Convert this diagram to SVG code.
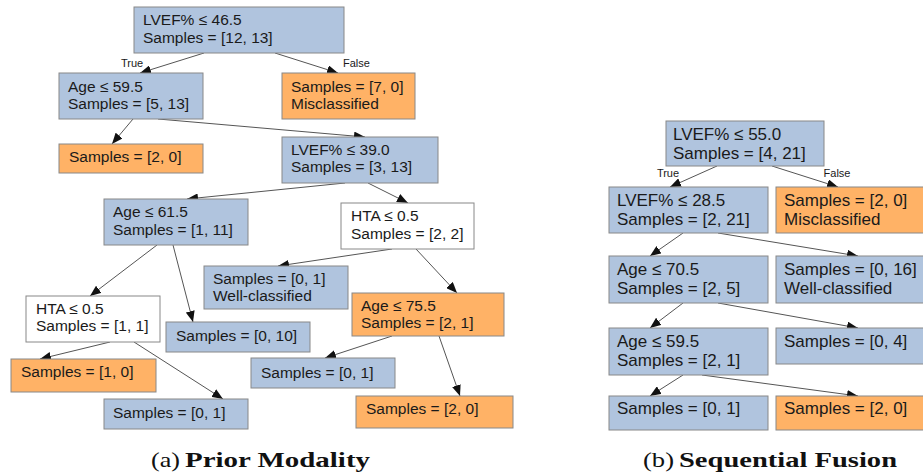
<svg xmlns="http://www.w3.org/2000/svg" width="923" height="474" viewBox="0 0 923 474">
<defs>
<marker id="arr" markerUnits="userSpaceOnUse" markerWidth="11" markerHeight="9" refX="11" refY="4.5" orient="auto">
<path d="M0,0 L11,4.5 L0,9 z" fill="#111"/>
</marker>
<style>
.b{fill:#b0c4de;stroke:#888;stroke-width:1}
.o{fill:#ffb266;stroke:#888;stroke-width:1}
.w{fill:#ffffff;stroke:#888;stroke-width:1}
.t{font-family:"Liberation Sans",Arial,sans-serif;font-size:15.5px;fill:#1a1a1a}
.tr{font-family:"Liberation Sans",Arial,sans-serif;font-size:17px;fill:#1a1a1a}
.el{font-family:"Liberation Sans",Arial,sans-serif;font-size:11px;fill:#1a1a1a}
.e line{stroke:#555;stroke-width:1;marker-end:url(#arr)}
.cap{font-family:"Liberation Serif","Times New Roman",serif;font-size:21px;fill:#111}
</style>
</defs>
<rect width="923" height="474" fill="#fff"/>

<!-- Connectors (a) -->
<g id="edges-a" class="e">
<line x1="204" y1="53" x2="140" y2="73"/>
<line x1="275" y1="53" x2="338" y2="73"/>
<line x1="133" y1="119" x2="112" y2="144"/>
<line x1="158" y1="119" x2="365" y2="137"/>
<line x1="345" y1="183" x2="187" y2="199"/>
<line x1="368" y1="183" x2="408" y2="203"/>
<line x1="157" y1="245" x2="90" y2="296"/>
<line x1="173" y1="245" x2="193" y2="322"/>
<line x1="392" y1="249" x2="278" y2="266"/>
<line x1="416" y1="249" x2="457" y2="293"/>
<line x1="110" y1="342" x2="40" y2="359"/>
<line x1="134" y1="342" x2="223" y2="399"/>
<line x1="392" y1="336" x2="325" y2="358"/>
<line x1="439" y1="336" x2="460" y2="396"/>
<text class="el" x="121" y="67">True</text>
<text class="el" x="343" y="67">False</text>
</g>

<!-- Nodes (a) -->
<g id="a-root"><rect class="b" x="134" y="7" width="210" height="46"/><text class="t"><tspan x="143" y="25">LVEF% ≤ 46.5</tspan><tspan x="143" y="43">Samples = [12, 13]</tspan></text></g>
<g id="a-age595"><rect class="b" x="59" y="73" width="144" height="46"/><text class="t"><tspan x="68" y="92">Age ≤ 59.5</tspan><tspan x="68" y="109">Samples = [5, 13]</tspan></text></g>
<g id="a-mis70"><rect class="o" x="282" y="73" width="133" height="46"/><text class="t"><tspan x="291" y="92">Samples = [7, 0]</tspan><tspan x="291" y="109">Misclassified</tspan></text></g>
<g id="a-s20a"><rect class="o" x="59" y="144" width="144" height="29"/><text class="t" x="69" y="162">Samples = [2, 0]</text></g>
<g id="a-lvef39"><rect class="b" x="282" y="137" width="156" height="46"/><text class="t"><tspan x="291" y="155">LVEF% ≤ 39.0</tspan><tspan x="291" y="172">Samples = [3, 13]</tspan></text></g>
<g id="a-age615"><rect class="b" x="104" y="199" width="144" height="46"/><text class="t"><tspan x="113" y="217">Age ≤ 61.5</tspan><tspan x="113" y="235">Samples = [1, 11]</tspan></text></g>
<g id="a-hta1"><rect class="w" x="341" y="203" width="133" height="46"/><text class="t"><tspan x="351" y="221">HTA ≤ 0.5</tspan><tspan x="351" y="239">Samples = [2, 2]</tspan></text></g>
<g id="a-well"><rect class="b" x="204" y="266" width="144" height="43"/><text class="t"><tspan x="213" y="284">Samples = [0, 1]</tspan><tspan x="213" y="301">Well-classified</tspan></text></g>
<g id="a-age755"><rect class="o" x="352" y="293" width="152" height="43"/><text class="t"><tspan x="361" y="311">Age ≤ 75.5</tspan><tspan x="361" y="328">Samples = [2, 1]</tspan></text></g>
<g id="a-hta2"><rect class="w" x="26" y="296" width="134" height="46"/><text class="t"><tspan x="36" y="314">HTA ≤ 0.5</tspan><tspan x="36" y="331">Samples = [1, 1]</tspan></text></g>
<g id="a-s010"><rect class="b" x="166" y="322" width="144" height="30"/><text class="t" x="176" y="341">Samples = [0, 10]</text></g>
<g id="a-s10"><rect class="o" x="11" y="359" width="145" height="33"/><text class="t" x="21" y="377">Samples = [1, 0]</text></g>
<g id="a-s01a"><rect class="b" x="104" y="399" width="144" height="30"/><text class="t" x="113" y="418">Samples = [0, 1]</text></g>
<g id="a-s01b"><rect class="b" x="251" y="358" width="144" height="30"/><text class="t" x="261" y="378">Samples = [0, 1]</text></g>
<g id="a-s20b"><rect class="o" x="356" y="396" width="157" height="32"/><text class="t" x="366" y="414">Samples = [2, 0]</text></g>

<!-- Connectors (b) -->
<g id="edges-b" class="e">
<line x1="717" y1="166" x2="670" y2="187"/>
<line x1="772" y1="166" x2="838" y2="187"/>
<line x1="683" y1="233" x2="650" y2="256"/>
<line x1="718" y1="233" x2="858" y2="256"/>
<line x1="683" y1="303" x2="650" y2="328"/>
<line x1="718" y1="303" x2="858" y2="328"/>
<line x1="683" y1="375" x2="650" y2="396"/>
<line x1="702" y1="375" x2="858" y2="396"/>
<text class="el" x="668" y="177" text-anchor="middle">True</text>
<text class="el" x="837" y="177" text-anchor="middle">False</text>
</g>

<!-- Nodes (b) -->
<g id="b-root"><rect class="b" x="666" y="121" width="158" height="45"/><text class="tr"><tspan x="673" y="140">LVEF% ≤ 55.0</tspan><tspan x="673" y="159">Samples = [4, 21]</tspan></text></g>
<g id="b-lvef285"><rect class="b" x="609" y="187" width="159" height="46"/><text class="tr"><tspan x="617" y="206">LVEF% ≤ 28.5</tspan><tspan x="617" y="225">Samples = [2, 21]</tspan></text></g>
<g id="b-mis"><rect class="o" x="776" y="187" width="150" height="46"/><text class="tr"><tspan x="784" y="206">Samples = [2, 0]</tspan><tspan x="784" y="225">Misclassified</tspan></text></g>
<g id="b-age705"><rect class="b" x="609" y="256" width="159" height="47"/><text class="tr"><tspan x="617" y="275">Age ≤ 70.5</tspan><tspan x="617" y="294">Samples = [2, 5]</tspan></text></g>
<g id="b-well"><rect class="b" x="776" y="256" width="150" height="47"/><text class="tr"><tspan x="784" y="275">Samples = [0, 16]</tspan><tspan x="784" y="294">Well-classified</tspan></text></g>
<g id="b-age595"><rect class="b" x="609" y="328" width="159" height="47"/><text class="tr"><tspan x="617" y="347">Age ≤ 59.5</tspan><tspan x="617" y="366">Samples = [2, 1]</tspan></text></g>
<g id="b-s04"><rect class="b" x="776" y="328" width="150" height="36"/><text class="tr" x="784" y="347">Samples = [0, 4]</text></g>
<g id="b-s01"><rect class="b" x="609" y="396" width="159" height="34"/><text class="tr" x="617" y="414">Samples = [0, 1]</text></g>
<g id="b-s20"><rect class="o" x="776" y="396" width="150" height="34"/><text class="tr" x="784" y="414">Samples = [2, 0]</text></g>

<!-- Captions -->
<g id="captions">
<text class="cap" x="151" y="467" textLength="29" lengthAdjust="spacingAndGlyphs">(a)</text>
<text class="cap" x="185" y="467" font-weight="bold" textLength="185" lengthAdjust="spacingAndGlyphs">Prior Modality</text>
<text class="cap" x="643" y="467" textLength="31" lengthAdjust="spacingAndGlyphs">(b)</text>
<text class="cap" x="679" y="467" font-weight="bold" textLength="218" lengthAdjust="spacingAndGlyphs">Sequential Fusion</text>
</g>
</svg>
